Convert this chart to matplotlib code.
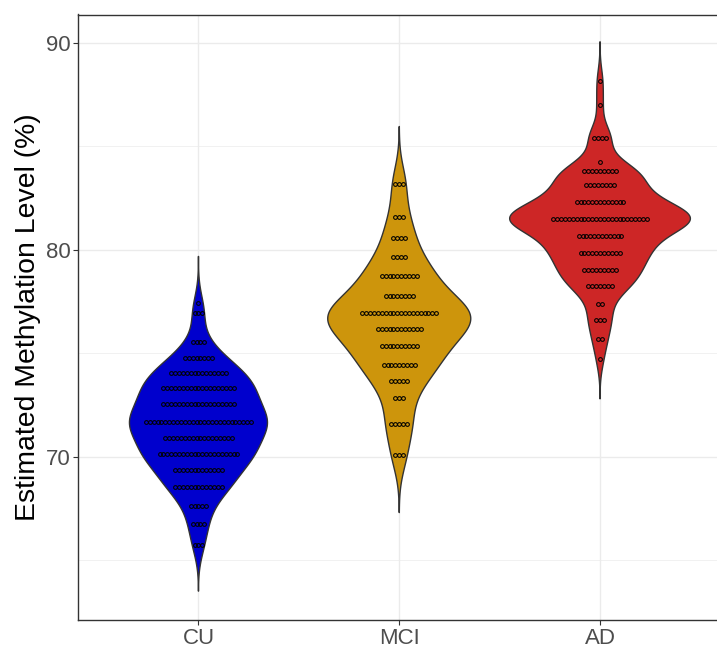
import numpy as np
import matplotlib
matplotlib.use("Agg")
import matplotlib.pyplot as plt

plt.rcParams['font.family'] = ['Liberation Sans', 'DejaVu Sans']

categories = ["CU", "MCI", "AD"]
colors = ["#0000CD", "#CD950C", "#CD2626"]

# dot-plot rows: bin centre levels and number of dots per row
cu_levels = [77.45, 76.94, 75.57, 74.77, 74.07, 73.33, 72.56, 71.71, 70.93, 70.14, 69.37, 68.54, 67.63, 66.76, 65.76]
cu_counts = [1, 3, 4, 8, 15, 19, 19, 28, 18, 21, 13, 13, 5, 4, 3]

mci_levels = [83.20, 81.59, 80.57, 79.66, 78.76, 77.78, 76.95, 76.18, 75.36, 74.46, 73.67, 72.84, 71.58, 70.08]
mci_counts = [3, 3, 4, 4, 10, 8, 20, 12, 10, 9, 5, 3, 5, 3]

ad_levels = [88.15, 87.00, 85.41, 84.27, 83.80, 83.13, 82.30, 81.50, 80.68, 79.87, 79.03, 78.25, 77.39, 76.62, 75.69, 74.72]
ad_counts = [1, 1, 4, 1, 9, 8, 13, 25, 12, 11, 9, 7, 2, 3, 2, 1]

# kernel bandwidth adjustment per group (binned data loses some spread)
bw_adjust = [1.0, 1.2, 1.0]

y_ticks = [70, 80, 90]
y_label = "Estimated Methylation Level (%)"

groups = [(cu_levels, cu_counts), (mci_levels, mci_counts), (ad_levels, ad_counts)]


def bw_nrd0(x):
    x = np.asarray(x, float)
    sd = np.std(x, ddof=1)
    q75, q25 = np.percentile(x, [75, 25])
    lo = min(sd, (q75 - q25) / 1.34)
    if lo <= 0:
        lo = sd
    return 0.9 * lo * len(x) ** (-0.2)


def kde(x, bw, grid):
    x = np.asarray(x, float)
    z = (grid[:, None] - x[None, :]) / bw
    return np.exp(-0.5 * z ** 2).sum(axis=1) / (len(x) * bw * np.sqrt(2 * np.pi))


W, H = 717, 648
fig = plt.figure(figsize=(W / 100, H / 100), dpi=100)
left, right, top, bottom = 78, 720.5, 14.5, 620
ax = fig.add_axes([left / W, (H - bottom) / H, (right - left) / W, (bottom - top) / H])

dens_list = []
for (levels, counts), adj in zip(groups, bw_adjust):
    data = np.repeat(levels, counts)
    bw = bw_nrd0(data) * adj
    grid = np.linspace(data.min() - 3 * bw, data.max() + 3 * bw, 512)
    d = kde(data, bw, grid)
    dens_list.append((grid, d))
maxd = max(d.max() for _, d in dens_list)

for i, ((grid, d), col) in enumerate(zip(dens_list, colors)):
    xpos = i + 1
    hw = 0.45 * d / maxd
    xs = np.concatenate([xpos - hw, (xpos + hw)[::-1]])
    ys = np.concatenate([grid, grid[::-1]])
    ax.fill(xs, ys, facecolor=col, edgecolor="#333333", linewidth=1.0, zorder=3)

spacing = 0.0194
for i, (levels, counts) in enumerate(groups):
    xpos = i + 1
    for lv, n in zip(levels, counts):
        offs = (np.arange(n) - (n - 1) / 2) * spacing
        ax.plot(xpos + offs, np.full(n, lv), linestyle="none", marker="o",
                markersize=2.7, markerfacecolor="none", markeredgecolor="black",
                markeredgewidth=0.75, zorder=4)

ax.set_xlim(0.4, 3.6)
ax.set_ylim(90 - (bottom - 43) / 20.7, 90 + (43 - top) / 20.7)
ax.set_xticks([1, 2, 3])
ax.set_xticklabels(categories)
ax.set_yticks(y_ticks)
ax.set_yticks([65, 75, 85], minor=True)
ax.grid(True, which="major", color="#EBEBEB", linewidth=1.0, zorder=0)
ax.grid(True, which="minor", axis="y", color="#EBEBEB", linewidth=0.5, zorder=0)
ax.set_axisbelow(True)
ax.tick_params(axis="both", which="major", length=3.5, width=0.8, color="#333333",
               labelsize=16, labelcolor="#4D4D4D", pad=2)
ax.tick_params(axis="y", which="minor", length=0)
for s in ax.spines.values():
    s.set_color("#333333")
    s.set_linewidth(1.0)
ax.set_ylabel(y_label, fontsize=20.4, color="black", labelpad=3)

fig.savefig("out.png", dpi=100)
